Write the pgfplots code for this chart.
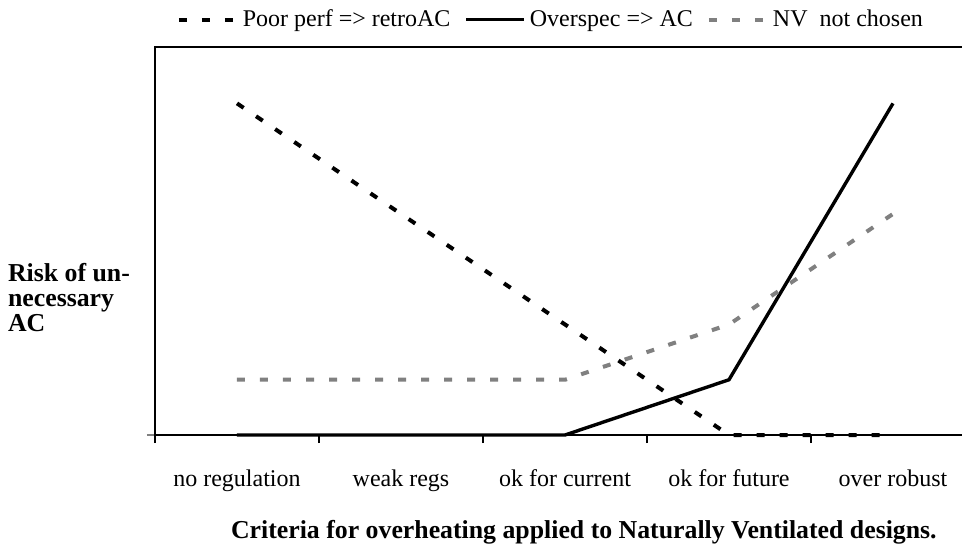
\documentclass[border=0pt]{standalone}
\usepackage{fontspec}
\setmainfont{Liberation Serif}
\usepackage{pgfplots}
\pgfplotsset{compat=1.18}
\definecolor{nvgray}{RGB}{128,128,128}
\begin{document}
\begin{tikzpicture}
\begin{axis}[
  scale only axis,
  width=410pt, height=194pt,
  xmin=-0.5, xmax=4.5, ymin=0, ymax=7.02,
  clip=false,
  font=\fontsize{12}{14}\selectfont,
  axis line style={line width=0.6pt},
  xtick={0,1,2,3,4},
  xticklabels={no regulation, weak regs, ok for current, ok for future, over robust},
  major x tick style={draw=none},
  minor xtick={-0.5,0.5,1.5,2.5,3.5,4.5},
  minor x tick style={black, line width=0.6pt},
  minor tick length=4pt,
  tick align=outside,
  xtick pos=bottom,
  ytick={0}, yticklabels={},
  ytick pos=left,
  major y tick style={nvgray, line width=0.6pt},
  major tick length=4pt,
  xticklabel style={yshift=-10pt},
  xlabel={Criteria for overheating applied to Naturally Ventilated designs.},
  xlabel style={at={(axis description cs:0.523,0)}, anchor=north, yshift=-39pt,
     font=\fontsize{12.9}{14}\selectfont\bfseries},
  ylabel={Risk of un-\\necessary\\AC},
  ylabel style={rotate=-90, align=left, font=\fontsize{12.9}{12.5}\selectfont\bfseries,
     at={(axis description cs:0,0.355)}, anchor=east, xshift=-9pt},
  legend columns=-1,
  legend style={draw=none, at={(axis description cs:0.484,1)}, anchor=south, yshift=4.5pt,
     font=\fontsize{12}{14}\selectfont,
     /tikz/every even column/.append style={column sep=5pt}},
  legend image code/.code={\draw[#1] (0pt,0pt) -- (29pt,0pt);},
]
\addplot[black, line width=2pt, dash pattern=on 4pt off 7.5pt] coordinates {(0,6) (1,4) (2,2) (3,0) (4,0)};
\addlegendentry{Poor perf => retroAC}
\addplot[black, line width=1.7pt] coordinates {(0,0) (1,0) (2,0) (3,1) (4,6)};
\addlegendentry{Overspec => AC}
\addplot[nvgray, line width=2pt, dash pattern=on 4pt off 7.5pt] coordinates {(0,1) (1,1) (2,1) (3,2) (4,4)};
\addlegendentry{NV\ \ not chosen}
\end{axis}
\pgfresetboundingbox
\useasboundingbox (-77.5pt,-61.5pt) rectangle (403.5pt,217.5pt);
\end{tikzpicture}
\end{document}
